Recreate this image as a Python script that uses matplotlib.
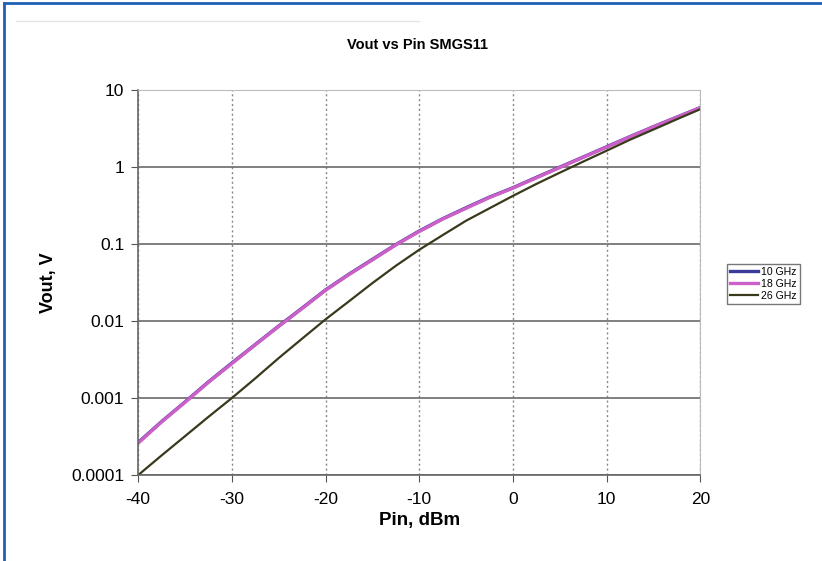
import matplotlib.pyplot as plt
from matplotlib.lines import Line2D

pin = [-40, -37.5, -35, -32.5, -30, -27.5, -25, -22.5, -20, -17.5, -15, -12.5,
       -10, -7.5, -5, -2.5, 0, 2.5, 5, 7.5, 10, 12.5, 15, 17.5, 20]
v_10ghz = [2.65e-4, 4.95e-4, 8.9e-4, 1.62e-3, 2.85e-3, 4.95e-3, 8.6e-3, 0.0147, 0.0253,
           0.0405, 0.063, 0.098, 0.147, 0.212, 0.295, 0.405, 0.535, 0.73, 0.99, 1.34,
           1.82, 2.47, 3.32, 4.42, 5.87]
v_18ghz = [2.6e-4, 4.9e-4, 8.8e-4, 1.6e-3, 2.8e-3, 4.9e-3, 8.5e-3, 0.0145, 0.025,
           0.04, 0.062, 0.097, 0.145, 0.21, 0.29, 0.4, 0.53, 0.72, 0.98, 1.33,
           1.8, 2.45, 3.3, 4.4, 5.85]
v_26ghz = [1.0e-4, 1.8e-4, 3.2e-4, 5.7e-4, 1.0e-3, 1.8e-3, 3.3e-3, 5.9e-3, 0.0105,
           0.018, 0.031, 0.052, 0.084, 0.13, 0.2, 0.29, 0.42, 0.6, 0.84, 1.17,
           1.62, 2.25, 3.05, 4.15, 5.6]
labels = ['10 GHz', '18 GHz', '26 GHz']

plt.rcParams['font.family'] = ['Liberation Sans', 'DejaVu Sans']

fig = plt.figure(figsize=(8.22, 5.61), dpi=100)
ax = fig.add_axes([0.168, 0.153, 0.684, 0.687])

ax.plot(pin, v_10ghz, color='#3b3b9c', lw=2.4, label=labels[0])
ax.plot(pin, v_18ghz, color='#cc5fc8', lw=2.4, label=labels[1])
ax.plot(pin, v_26ghz, color='#3a391c', lw=1.6, label=labels[2])

ax.set_yscale('log')
ax.set_xlim(-40, 20)
ax.set_ylim(1e-4, 10)
ax.set_xticks([-40, -30, -20, -10, 0, 10, 20])
ax.set_xticklabels(['-40', '-30', '-20', '-10', '0', '10', '20'])
ax.set_yticks([1e-4, 1e-3, 1e-2, 0.1, 1, 10])
ax.set_yticklabels(['0.0001', '0.001', '0.01', '0.1', '1', '10'])
ax.minorticks_off()
ax.tick_params(labelsize=12.5, length=5, color='#555555', pad=5)
ax.tick_params(axis='x', pad=7)

ax.yaxis.grid(True, color='#6a6a6a', lw=1.2, ls='-')
ax.xaxis.grid(True, color='#888888', lw=1.0, ls=(0, (1.5, 2)))
ax.set_axisbelow(True)

for s in ['left', 'bottom']:
    ax.spines[s].set_color('#666666')
    ax.spines[s].set_linewidth(1.2)
for s in ['right', 'top']:
    ax.spines[s].set_color('#bbbbbb')

ax.set_xlabel('Pin, dBm', fontsize=13.5, fontweight='bold', labelpad=4)
ax.set_ylabel('Vout, V', fontsize=13, fontweight='bold', labelpad=10)
fig.text(0.508, 0.92, 'Vout vs Pin SMGS11', ha='center', va='center',
         fontsize=10.5, fontweight='bold')

leg = fig.legend(loc='center left', bbox_to_anchor=(0.884, 0.494), fontsize=7.6,
                 handlelength=2.7, frameon=True, fancybox=False,
                 borderpad=0.3, labelspacing=0.2, handletextpad=0.3,
                 borderaxespad=0)
leg.get_frame().set_edgecolor('#555555')
leg.get_frame().set_linewidth(1.0)

# blue frame on left and top edge
fig.add_artist(Line2D([0.005, 0.005], [0, 0.995], color='#1f5fb4', lw=2))
fig.add_artist(Line2D([0.005, 1], [0.995, 0.995], color='#1f5fb4', lw=2))
fig.add_artist(Line2D([0.02, 0.51], [0.962, 0.962], color='#e4e4e4', lw=1))

fig.savefig('out.png', dpi=100)
